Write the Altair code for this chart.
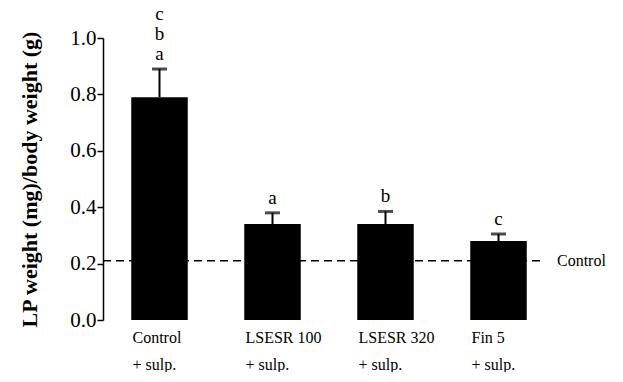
import altair as alt
import pandas as pd

groups = ["Control|+ sulp.", "LSESR 100|+ sulp.", "LSESR 320|+ sulp.", "Fin 5|+ sulp."]
means = [0.79, 0.34, 0.34, 0.28]
err_tops = [0.89, 0.38, 0.385, 0.305]
letter_groups = [groups[0], groups[0], groups[0], groups[1], groups[2], groups[3]]
letter_text = ["a", "b", "c", "a", "b", "c"]
letter_level = [0, 1, 2, 0, 0, 0]
control_level = [0.21]
control_label = ["Control"]

df = pd.DataFrame({"group": groups, "mean": means, "top": err_tops})
top_map = dict(zip(groups, err_tops))
ldf = pd.DataFrame({"group": letter_groups, "letter": letter_text, "level": letter_level})
ldf["top"] = ldf["group"].map(top_map)
ref = pd.DataFrame({"y": control_level, "label": control_label})

FONT = "Liberation Serif"
LH = 20

x = alt.X("group:N", sort=groups, title=None,
          scale=alt.Scale(paddingInner=0.5, paddingOuter=0.25),
          axis=alt.Axis(domain=False, ticks=False, labelAngle=0, labelAlign="left",
                        labelOffset=-27, labelFont=FONT, labelFontSize=16,
                        labelColor="black", labelPadding=9, labelLineHeight=27,
                        labelBaseline="top",
                        labelExpr="split(datum.label, '|')"))

y = alt.Y("mean:Q", title="LP weight (mg)/body weight (g)",
          scale=alt.Scale(domain=[0, 1], nice=False),
          axis=alt.Axis(values=[round(i * 0.1, 1) for i in range(11)],
                        labelExpr="round(datum.value*10) % 2 == 0 ? format(datum.value, '.1f') : ''",
                        tickSize={"condition": {"test": "round(datum.value*10) % 2 == 0", "value": 6}, "value": 3},
                        tickColor="black", tickWidth=1.5, domainColor="black", domainWidth=1.5,
                        labelFont=FONT, labelFontSize=21, labelColor="black", labelPadding=1,
                        titleFont=FONT, titleFontSize=22, titleFontWeight="bold",
                        titleColor="black", titlePadding=28, grid=False))

base = alt.Chart(df)

refline = alt.Chart(ref).mark_rule(color="black", strokeDash=[8, 5], strokeWidth=1.5).encode(
    y=alt.Y("y:Q", scale=alt.Scale(domain=[0, 1], nice=False)),
    x=alt.value(0), x2=alt.value(440))

reftext = alt.Chart(ref).mark_text(align="left", baseline="middle", font=FONT, fontSize=16,
                                   color="black").encode(
    y="y:Q", x=alt.value(454), text="label:N")

bars = base.mark_bar(color="black").encode(x=x, y=y)

err = base.mark_rule(color="black", strokeWidth=2).encode(
    x=alt.X("group:N", sort=groups), y="mean:Q", y2="top:Q")

cap = base.mark_tick(color="black", thickness=3, size=15, orient="horizontal").encode(
    x=alt.X("group:N", sort=groups), y="top:Q")

letter_layers = []
for lvl in range(3):
    letter_layers.append(
        alt.Chart(ldf).transform_filter(f"datum.level == {lvl}").mark_text(
            baseline="alphabetic", font=FONT, fontSize=19, color="black",
            dy=-9 - lvl * LH).encode(
            x=alt.X("group:N", sort=groups), y="top:Q", text="letter:N"))

chart = alt.layer(refline, bars, err, cap, *letter_layers, reftext).properties(
    width=452, height=282,
    autosize=alt.AutoSizeParams(type="none"),
    padding={"left": 95, "top": 30, "right": 60, "bottom": 52},
).configure(background="white").configure_view(stroke=None)

chart.save("out.html", embed_options={"renderer": "svg", "actions": False})
